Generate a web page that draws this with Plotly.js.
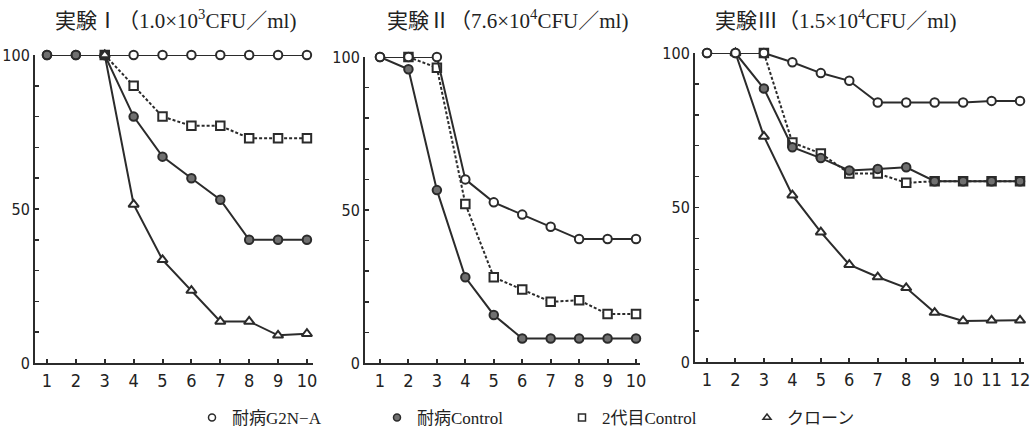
<!DOCTYPE html>
<html><head><meta charset="utf-8">
<script src="https://cdn.plot.ly/plotly-3.0.1.min.js"></script>
<style>body{margin:0;background:#fff}#c{width:1030px;height:443px}</style>
</head><body><div id="c"></div>
<script>
// Panel titles
const panelTitles = ["実験Ⅰ（1.0×10<sup>3</sup>CFU／ml)", "実験Ⅱ（7.6×10<sup>4</sup>CFU／ml)", "実験Ⅲ（1.5×10<sup>4</sup>CFU／ml)"];
const seriesNames = ["耐病G2N−A", "耐病Control", "2代目Control", "クローン"];

// Experiment I
const x1 = [1,2,3,4,5,6,7,8,9,10];
const e1_g2n = [100,100,100,100,100,100,100,100,100,100];
const e1_ctrl = [100,100,100,80,67,60,53,40,40,40];
const e1_gen2 = [null,null,100,90,80,77,77,73,73,73];
const e1_clone = [null,null,100,51.5,33.5,23.5,13.5,13.5,9,9.5];

// Experiment II
const x2 = [1,2,3,4,5,6,7,8,9,10];
const e2_g2n = [100,100,100,60,52.5,48.5,44.5,40.5,40.5,40.5];
const e2_ctrl = [100,96,56.5,28,15.7,8,8,8,8,8];
const e2_gen2 = [null,100,96.5,52,28,24,20,20.5,16,16];

// Experiment III
const x3 = [1,2,3,4,5,6,7,8,9,10,11,12];
const e3_g2n = [100,100,100,97,93.5,91,84,84,84,84,84.5,84.5];
const e3_ctrl = [100,100,88.5,69.5,66,62,62.5,63,58.5,58.5,58.5,58.5];
const e3_gen2 = [null,null,100,71,67.5,61,61,58,58.5,58.5,58.5,58.5];
const e3_clone = [null,100,73,54,42,31.5,27.5,24,16,13.3,13.5,13.5];

const ink = '#2b2b2b';
const styles = [
  {symbol:'circle', color:'#ffffff', dash:'solid'},
  {symbol:'circle', color:'#707070', dash:'solid'},
  {symbol:'square', color:'#ffffff', dash:'3px,2px'},
  {symbol:'triangle-up', color:'#ffffff', dash:'solid'}
];

function tr(x, y, k, ax) {
  const s = styles[k];
  return {x:x, y:y, xaxis:'x'+ax, yaxis:'y'+ax, mode:'lines+markers', showlegend:false,
    cliponaxis:false, connectgaps:false,
    line:{color:ink, width:2, dash:s.dash},
    marker:{symbol:s.symbol, size:k===3?9:8.5, color:s.color, line:{color:ink, width:2}},
    hoverinfo:'skip'};
}

const data = [
  tr(x1,e1_g2n,0,''), tr(x1,e1_gen2,2,''), tr(x1,e1_ctrl,1,''), tr(x1,e1_clone,3,''),
  tr(x2,e2_gen2,2,'2'), tr(x2,e2_ctrl,1,'2'), tr(x2,e2_g2n,0,'2'),
  tr(x3,e3_gen2,2,'3'), tr(x3,e3_ctrl,1,'3'), tr(x3,e3_clone,3,'3'), tr(x3,e3_g2n,0,'3')
];
// legend entries
seriesNames.forEach((n,k)=>{
  const s = styles[k];
  data.push({x:[null], y:[null], mode:'markers', name:n, showlegend:true,
    marker:{symbol:s.symbol, size:7, color:s.color, line:{color:ink, width:1.5}}});
});

const W=1030, H=443;
const px = v => v/W, py = v => 1 - v/H;
const xTickFont = {family:'Liberation Sans Narrow, DejaVu Sans Condensed, Arial Narrow, sans-serif', size:18, color:'#222'};
const yTickFont = {family:'Liberation Sans Narrow, DejaVu Sans Condensed, Arial Narrow, sans-serif', size:16, color:'#222'};
function xa(d0,d1,r0,r1,n,anchor){
  const vals=[]; for(let i=1;i<=n;i++) vals.push(i);
  return {domain:[px(d0),px(d1)], range:[r0,r1], anchor:anchor, showgrid:false, zeroline:false,
    showline:true, linecolor:ink, linewidth:2, ticks:'inside', ticklen:4, tickwidth:2, tickcolor:ink,
    tickvals:vals, ticktext:vals.map(String), tickfont:xTickFont, fixedrange:true,
    ticklabeloverflow:'allow'};
}
function ya(top,bot,anchor){
  return {domain:[py(bot),py(top)], range:[0,100], anchor:anchor, showgrid:false, zeroline:false,
    showline:true, linecolor:ink, linewidth:2, ticks:'inside', ticklen:4, tickwidth:1.5, tickcolor:ink,
    tickvals:[0,10,20,30,40,50,60,70,80,90,100], ticktext:['0','','','','','50','','','','','100'],
    tickfont:yTickFont, fixedrange:true, ticklabeloverflow:'allow'};
}

const titleFont = {family:'Liberation Serif, Noto Sans CJK JP, serif', size:21, color:'#222'};
function title(i, cx){
  return {text:panelTitles[i], x:px(cx), y:py(20), xref:'paper', yref:'paper',
    xanchor:'center', yanchor:'middle', showarrow:false, font:titleFont};
}
const layout = {
  width:W, height:H, margin:{l:0,r:0,t:0,b:0}, paper_bgcolor:'#fff', plot_bgcolor:'rgba(0,0,0,0)',
  xaxis: xa(35,313,0.585,10.21,10,'y'),
  yaxis: ya(55,363,'x'),
  xaxis2: xa(365,640,0.473,10.14,10,'y2'),
  yaxis2: ya(57,363,'x2'),
  xaxis3: xa(695,1024,0.578,12.14,12,'y3'),
  yaxis3: ya(53,362,'x3'),
  showlegend:true,
  legend:{orientation:'h', x:px(192), xanchor:'left', y:py(418), yanchor:'middle',
    font:{family:'Liberation Serif, Noto Sans CJK JP, serif', size:17, color:'#222'},
    entrywidth:140, entrywidthmode:'pixels', itemwidth:30, tracegroupgap:0},
  annotations:[title(0,175), title(1,507), title(2,835)]
};
Plotly.newPlot('c', data, layout, {displayModeBar:false, staticPlot:true});
</script></body></html>
